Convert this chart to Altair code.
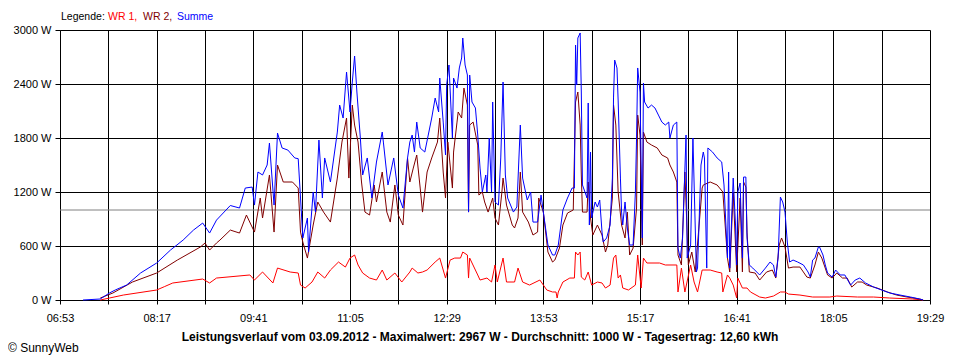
import altair as alt
import pandas as pd

# ---------------- axis ticks / labels ----------------
tick_minutes = [413, 455, 497, 539, 581, 623, 665, 707, 749, 791,
                833, 875, 917, 959, 1001, 1043, 1085, 1127, 1169]
tick_labels = ["06:53", "", "08:17", "", "09:41", "", "11:05", "", "12:29", "",
               "13:53", "", "15:17", "", "16:41", "", "18:05", "", "19:29"]
y_ticks = [0, 600, 1200, 1800, 2400, 3000]
average_w = 1000

legend_parts = ["Legende:", "WR 1,", "WR 2,", "Summe"]
legend_colors = ["#000000", "#ff0000", "#800000", "#0000ff"]
title_text = ("Leistungsverlauf vom 03.09.2012 - Maximalwert: 2967 W - "
              "Durchschnitt: 1000 W - Tagesertrag: 12,60 kWh")
copyright_text = "\u00a9 SunnyWeb"

# ---------------- data (minute of day, watts) ----------------
sum_t = [433, 448, 456, 461, 471, 483, 497, 509, 520, 529, 537, 543, 549, 561, 569, 574,
         580, 582, 585, 589, 593, 595, 599, 602, 606, 611, 617, 620, 622, 624, 628, 629,
         633, 635, 638, 641, 643, 648, 654, 656, 659, 662, 665, 667, 669, 671, 674, 676,
         680, 684, 688, 693, 694, 698, 703, 707, 711, 715, 717, 719, 721, 723, 726, 730,
         733, 736, 739, 742, 743, 746, 748, 749, 751, 754, 755, 758, 760, 762, 763, 765,
         767, 768, 769, 771, 774, 776, 778, 780, 783, 784, 786, 788, 789, 791, 794, 796,
         798, 800, 802, 807, 810, 813, 815, 819, 822, 824, 828, 831, 833, 837, 841, 843,
         846, 850, 854, 858, 860, 861, 862, 863, 865, 866, 867, 871, 872, 873, 874, 875,
         878, 880, 882, 884, 885, 888, 891, 893, 894, 895, 897, 898, 900, 901, 902, 904,
         906, 908, 911, 913, 914, 915, 917, 919, 920, 921, 924, 927, 930, 933, 936, 939,
         942, 943, 946, 949, 950, 952, 954, 957, 958, 961, 963, 966, 967, 970, 972, 973,
         975, 976, 980, 984, 988, 990, 993, 994, 995, 998, 1000, 1001, 1002, 1004, 1006, 1007,
         1009, 1010, 1012, 1015, 1021, 1026, 1030, 1033, 1035, 1037, 1039, 1041, 1043, 1045, 1047, 1050,
         1054, 1059, 1063, 1065, 1067, 1069, 1072, 1073, 1076, 1078, 1080, 1084, 1087, 1091, 1095, 1100,
         1104, 1108, 1113, 1120, 1127, 1134, 1143, 1152, 1160, 1163]
sum_w = [0, 11, 78, 111, 167, 300, 411, 555, 666, 777, 855, 744, 888, 1050, 1022, 1244,
         1255, 1055, 1422, 1389, 1500, 1744, 1055, 1855, 1689, 1666, 1578, 1570, 1133, 689, 911, 533,
         1200, 977, 1777, 1133, 1578, 1311, 1866, 2166, 2022, 2533, 2089, 2422, 2711, 2311, 1800, 1389,
         1578, 1133, 1533, 1866, 1755, 1278, 1578, 1166, 1022, 1578, 1755, 1833, 1644, 1977, 1689, 1644,
         1833, 2022, 2244, 2089, 2466, 1977, 1611, 2389, 2611, 1800, 2466, 2355, 2578, 2689, 2911, 2611,
         2500, 977, 2500, 2200, 2133, 1833, 1466, 1200, 1389, 1200, 1800, 1200, 2200, 1089, 1055, 1578,
         2422, 1389, 1133, 977, 1033, 1944, 1355, 1111, 1200, 866, 866, 1166, 977, 611, 500, 500,
         611, 1000, 1133, 1244, 1244, 2833, 2389, 2911, 2967, 2311, 1278, 1133, 2189, 833, 1644, 911,
         1089, 1033, 1111, 755, 644, 689, 833, 1355, 2255, 2666, 2578, 2222, 1355, 977, 833, 1089,
         800, 611, 611, 1200, 1800, 2578, 2311, 689, 2411, 2200, 2133, 2166, 2133, 2055, 1977, 1944,
         1977, 1800, 1944, 1977, 577, 466, 689, 1833, 466, 611, 1800, 311, 355, 1500, 1644, 1578,
         355, 1689, 1644, 1578, 1533, 1278, 466, 1422, 355, 1355, 833, 389, 1200, 1300, 466, 1366,
         1366, 689, 389, 355, 278, 355, 422, 389, 255, 466, 1144, 1089, 977, 644, 422, 444,
         422, 389, 311, 255, 444, 466, 589, 589, 500, 389, 300, 255, 333, 278, 278, 166,
         222, 244, 189, 144, 111, 78, 55, 33, 11, 0]

wr2_t = [448, 459, 476, 497, 515, 535, 539, 543, 549, 552, 561, 569, 575, 582, 587, 589,
         595, 599, 602, 607, 615, 620, 622, 624, 628, 633, 637, 642, 648, 654, 658, 662,
         664, 667, 669, 672, 675, 678, 682, 686, 688, 693, 697, 700, 704, 707, 711, 715,
         717, 720, 723, 726, 728, 732, 736, 741, 743, 746, 748, 750, 754, 755, 758, 759,
         762, 764, 767, 768, 769, 772, 776, 777, 780, 782, 785, 789, 791, 794, 797, 798,
         801, 806, 808, 811, 813, 815, 820, 824, 828, 829, 833, 837, 841, 843, 847, 850,
         854, 859, 861, 863, 865, 866, 867, 871, 872, 874, 876, 880, 884, 887, 889, 893,
         894, 896, 898, 901, 904, 906, 908, 911, 914, 915, 917, 919, 920, 923, 927, 932,
         936, 941, 943, 946, 949, 950, 953, 956, 959, 962, 965, 971, 972, 978, 984, 989,
         993, 995, 998, 1001, 1004, 1006, 1007, 1009, 1010, 1012, 1017, 1021, 1027, 1032, 1035, 1038,
         1040, 1043, 1046, 1050, 1056, 1062, 1065, 1069, 1072, 1075, 1080, 1084, 1088, 1093, 1097, 1101,
         1106, 1110, 1114, 1123, 1132, 1140, 1149, 1160, 1163]
wr2_w = [22, 78, 200, 300, 444, 589, 633, 555, 633, 666, 777, 744, 944, 755, 1133, 911,
         1389, 755, 1500, 1311, 1311, 1244, 755, 644, 466, 833, 1089, 977, 866, 1355, 1755, 2022,
         1355, 2166, 1944, 1755, 1311, 977, 944, 1278, 1089, 1422, 977, 866, 1278, 944, 833, 1578,
         1311, 1466, 1611, 1244, 977, 1422, 1578, 1755, 2022, 1422, 1133, 1755, 1244, 1644, 1977, 2089,
         2022, 2355, 2166, 977, 1944, 1977, 1722, 1166, 1200, 1089, 977, 1133, 911, 833, 1200, 1355,
         1055, 833, 800, 911, 1422, 977, 866, 722, 755, 1133, 977, 533, 422, 444, 577, 833,
         966, 1000, 2200, 2311, 1944, 1389, 977, 977, 1311, 911, 722, 833, 722, 533, 611, 1133,
         2166, 1944, 1200, 833, 689, 977, 500, 577, 1022, 2055, 1833, 611, 1866, 1755, 1722, 1689,
         1611, 1578, 1500, 1422, 1311, 500, 389, 1422, 389, 533, 311, 1244, 1278, 1311, 1278, 1200,
         466, 311, 1200, 311, 1133, 311, 1311, 1255, 755, 311, 300, 222, 311, 333, 244, 611,
         689, 589, 355, 366, 366, 255, 244, 389, 533, 466, 278, 244, 300, 244, 244, 144,
         200, 200, 166, 133, 89, 55, 33, 11, 0]

wr1_t = [448, 456, 468, 497, 504, 511, 537, 543, 549, 578, 582, 589, 598, 602, 613, 620,
         622, 626, 632, 637, 643, 648, 655, 661, 665, 669, 672, 676, 682, 688, 693, 697,
         704, 710, 717, 719, 724, 728, 732, 739, 743, 748, 752, 756, 761, 763, 767, 768,
         769, 776, 778, 784, 788, 791, 793, 798, 801, 808, 811, 815, 821, 830, 836, 841,
         844, 845, 846, 850, 856, 860, 861, 863, 865, 866, 869, 872, 875, 880, 884, 887,
         891, 894, 896, 898, 900, 902, 907, 913, 915, 918, 920, 923, 934, 939, 949, 950,
         953, 956, 961, 964, 967, 971, 978, 984, 988, 989, 993, 995, 998, 1001, 1002, 1006,
         1010, 1013, 1021, 1026, 1033, 1039, 1043, 1046, 1056, 1067, 1082, 1088, 1106, 1120, 1134, 1154,
         1163]
wr1_w = [0, 22, 55, 111, 150, 189, 233, 189, 244, 278, 222, 311, 189, 355, 311, 300,
         166, 133, 200, 311, 244, 333, 422, 366, 466, 500, 389, 300, 244, 222, 333, 222,
         300, 200, 311, 355, 300, 311, 333, 422, 466, 244, 444, 466, 466, 533, 500, 244,
         466, 278, 222, 244, 200, 389, 200, 466, 200, 200, 355, 200, 166, 222, 111, 89,
         89, 22, 89, 200, 244, 244, 533, 500, 533, 255, 222, 311, 166, 200, 189, 133,
         166, 466, 500, 244, 278, 133, 111, 166, 500, 133, 466, 411, 411, 389, 389, 89,
         355, 89, 389, 200, 89, 333, 333, 311, 300, 89, 278, 244, 166, 22, 244, 133,
         133, 89, 33, 22, 44, 89, 89, 66, 55, 33, 33, 44, 33, 33, 22, 11,
         0]


def frame(t, w):
    return pd.DataFrame({"t": t, "w": w, "i": list(range(len(t)))})


label_expr = " : ".join(
    f"datum.value == {m} ? '{lab}'" for m, lab in zip(tick_minutes, tick_labels)
) + " : ''"

FONT = "Liberation Sans"
BLACK = "#000000"

axis_style = dict(
    grid=True, gridColor=BLACK, gridOpacity=1, gridWidth=1,
    domainColor=BLACK, domainOpacity=1, domainWidth=1,
    tickColor=BLACK, tickOpacity=1, tickWidth=1,
    labelFont=FONT, labelFontSize=11, labelColor=BLACK, title="",
)

x_enc = alt.X(
    "t:Q",
    scale=alt.Scale(domain=[413, 1169], nice=False, zero=False),
    axis=alt.Axis(values=tick_minutes, labelExpr=label_expr,
                  tickSize=4, labelPadding=8, labelFlush=False, **axis_style),
)
y_enc = alt.Y(
    "w:Q",
    scale=alt.Scale(domain=[0, 3000], nice=False),
    axis=alt.Axis(values=y_ticks, labelExpr="datum.value + ' W'",
                  tickSize=5, labelPadding=4, **axis_style),
)


def line(df, color):
    return alt.Chart(df).mark_line(color=color, strokeWidth=1).encode(
        x=x_enc, y=y_enc, order="i:Q"
    )


avg_rule = alt.Chart(pd.DataFrame({"w": [average_w]})).mark_rule(
    color="#808080", strokeWidth=1
).encode(y=alt.Y("w:Q", scale=alt.Scale(domain=[0, 3000], nice=False)))

lines = [
    line(frame(wr1_t, wr1_w), "#ff0000"),
    line(frame(wr2_t, wr2_w), "#800000"),
    line(frame(sum_t, sum_w), "#0000ff"),
]

one = pd.DataFrame({"k": [0]})
legend_x = [1, 48, 83, 117]
texts = []
for part, col, lx in zip(legend_parts, legend_colors, legend_x):
    texts.append(
        alt.Chart(one).mark_text(
            text=part, color=col, font=FONT, fontSize=10.5, align="left", baseline="alphabetic"
        ).encode(x=alt.value(lx), y=alt.value(-10))
    )
texts.append(
    alt.Chart(one).mark_text(
        text=title_text, color=BLACK, font=FONT, fontSize=12, fontWeight="bold",
        align="center", baseline="alphabetic"
    ).encode(x=alt.value(420), y=alt.value(311))
)
texts.append(
    alt.Chart(one).mark_text(
        text=copyright_text, color=BLACK, font=FONT, fontSize=12,
        align="left", baseline="alphabetic"
    ).encode(x=alt.value(-52), y=alt.value(322))
)

chart = alt.layer(avg_rule, *lines, *texts).properties(
    width=870,
    height=270,
    padding={"left": 52, "top": 22, "right": 22, "bottom": 60},
    autosize=alt.AutoSizeParams(type="none"),
).configure_view(stroke=None).configure(background="#ffffff")

chart.save("out.html", embed_options={"renderer": "svg", "actions": False})
